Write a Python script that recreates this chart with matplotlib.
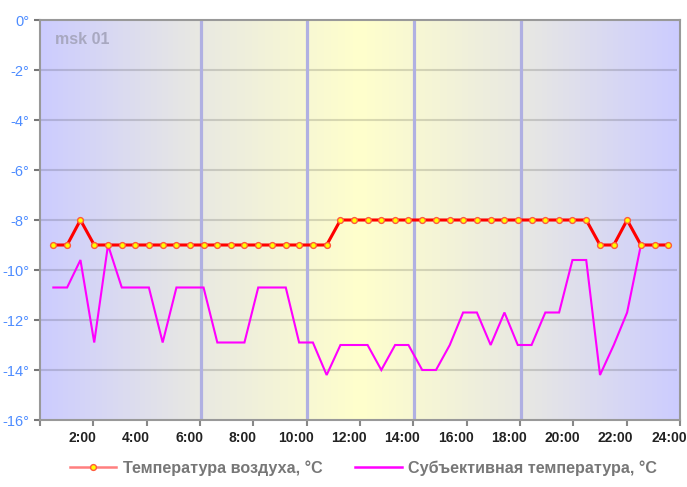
import matplotlib
matplotlib.use("Agg")
import matplotlib.pyplot as plt
import numpy as np
from matplotlib.lines import Line2D
from matplotlib.colors import LinearSegmentedColormap
from matplotlib.transforms import ScaledTranslation

plt.rcParams['font.family'] = ['Liberation Sans', 'DejaVu Sans']

# ---- data ----
times = ["0:30", "1:01", "1:31", "2:02", "2:33", "3:04", "3:34", "4:05", "4:36", "5:07",
         "5:37", "6:08", "6:39", "7:10", "7:40", "8:11", "8:42", "9:13", "9:43", "10:14",
         "10:45", "11:16", "11:46", "12:17", "12:48", "13:19", "13:49", "14:20", "14:51", "15:22",
         "15:52", "16:23", "16:54", "17:25", "17:55", "18:26", "18:57", "19:28", "19:58", "20:29",
         "21:00", "21:31", "22:01", "22:32", "23:03", "23:34"]
air_temp = [-9, -9, -8, -9, -9, -9, -9, -9, -9, -9,
            -9, -9, -9, -9, -9, -9, -9, -9, -9, -9,
            -9, -8, -8, -8, -8, -8, -8, -8, -8, -8,
            -8, -8, -8, -8, -8, -8, -8, -8, -8, -8,
            -9, -9, -8, -9, -9, -9]
feels_temp = [-10.7, -10.7, -9.6, -12.9, -9.0, -10.7, -10.7, -10.7, -12.9, -10.7,
              -10.7, -10.7, -12.9, -12.9, -12.9, -10.7, -10.7, -10.7, -12.9, -12.9,
              -14.2, -13.0, -13.0, -13.0, -14.0, -13.0, -13.0, -14.0, -14.0, -13.0,
              -11.7, -11.7, -13.0, -11.7, -13.0, -13.0, -11.7, -11.7, -9.6, -9.6,
              -14.2, -13.0, -11.7, -9.0, -9.0, -9.0]
x_ticks = list(range(0, 25, 2))
x_labels = [""] + [f"{h}:00" for h in range(2, 25, 2)]
y_ticks = list(range(0, -17, -2))
y_labels = [f"{v}°" for v in y_ticks]
day_lines = [6, 10, 14, 18]
station = "msk 01"
legend_labels = ["Температура воздуха, °C", "Субъективная температура, °C"]

hours = [int(t.split(":")[0]) + int(t.split(":")[1]) / 60 for t in times]

# ---- figure ----
W, H = 687, 487
fig = plt.figure(figsize=(W / 100, H / 100), dpi=100)
ax = fig.add_axes([40 / W, 1 - 420 / H, 640 / W, 400 / H])

# background gradient
cmap = LinearSegmentedColormap.from_list(
    "bg", [(0.0, (204/255, 204/255, 255/255)),
           (0.25, (233/255, 233/255, 226/255)),
           (0.5, (255/255, 255/255, 204/255)),
           (0.75, (233/255, 233/255, 226/255)),
           (1.0, (204/255, 204/255, 255/255))])
grad = np.linspace(0, 1, 512).reshape(1, -1)
ax.imshow(grad, cmap=cmap, extent=[0, 24, -16, 0], aspect='auto', zorder=0,
          interpolation='bilinear')

ax.set_xlim(0, 24)
ax.set_ylim(-16, 0)

# grid
for v in y_ticks[1:-1]:
    ax.plot([0, 23.87], [v, v], color='black', alpha=0.14, lw=1.5, zorder=1,
            solid_capstyle='butt')
for d in day_lines:
    ax.axvline(d + 0.02, color='#b0b0e2', lw=2.3, zorder=1)

# series
ax.plot(hours, feels_temp, color='#ff00ff', lw=1.5, zorder=3, solid_joinstyle='miter')
ax.plot(hours, air_temp, color='#ff0000', lw=2.2, zorder=4,
        marker='o', markersize=4.2, markerfacecolor='#ffff00',
        markeredgecolor='#ff5a3c', markeredgewidth=1.0)

ax.text(0.55, -0.8, station, fontsize=11.5, fontweight='bold', color='#a8a8c0',
        ha='left', va='center', zorder=5)

# axes styling
for s in ax.spines.values():
    s.set_color('#999999')
    s.set_linewidth(1.5)
    s.set_zorder(6)

ax.set_xticks(x_ticks)
ax.set_xticklabels(x_labels, fontsize=10, fontweight='bold', color='#222222')
ax.set_yticks(y_ticks)
ax.set_yticklabels(y_labels, fontsize=10.5, color='#4d8cff')
ax.tick_params(axis='x', direction='out', length=4, width=1.5, color='#888888', pad=4)
ax.tick_params(axis='y', direction='out', length=4.5, width=1.5, color='#777777', pad=3)
shift = ScaledTranslation(-11 / 100, 0, fig.dpi_scale_trans)
for lbl in ax.get_xticklabels():
    lbl.set_transform(lbl.get_transform() + shift)

# legend
handles = [
    Line2D([], [], color='#ff7f7f', lw=1.8, marker='o', markersize=4.2,
           markerfacecolor='#ffff00', markeredgecolor='#ff5a3c', markeredgewidth=1.0),
    Line2D([], [], color='#ff00ff', lw=1.8),
]
leg = fig.legend(handles, legend_labels, loc='center', bbox_to_anchor=(0.529, 1 - 468 / H),
                 ncol=2, frameon=False, fontsize=11.6, handlelength=2.9,
                 handletextpad=0.4, columnspacing=2.0, labelcolor='#777777')
for t in leg.get_texts():
    t.set_fontweight('bold')

fig.savefig("out.png", dpi=100)
